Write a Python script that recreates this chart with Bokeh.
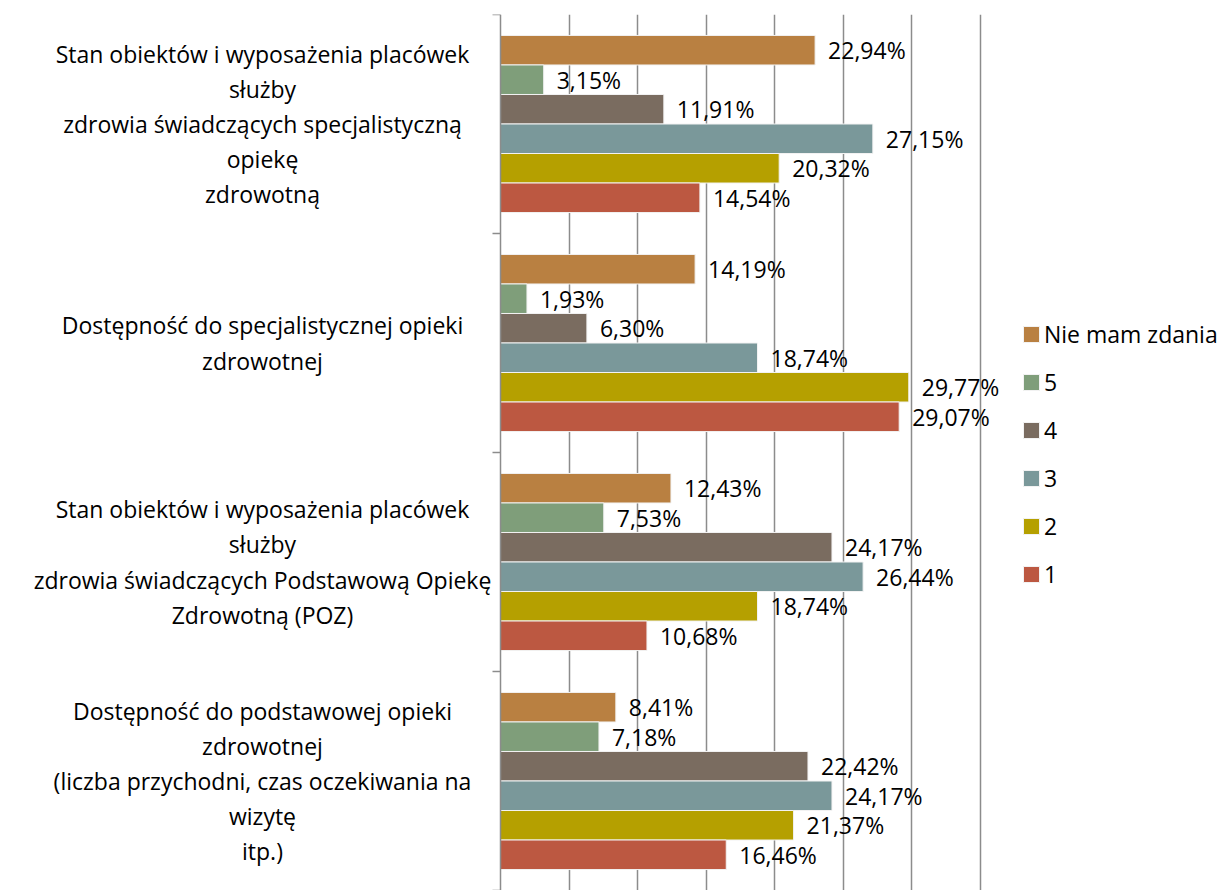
import math
from bokeh.plotting import figure
from bokeh.models import (ColumnDataSource, Range1d, FixedTicker, Legend,
                          LegendItem, Grid, Span)
from bokeh.transform import dodge
from bokeh.core.properties import value
from bokeh.embed import file_html
from bokeh.resources import INLINE

categories = [
    "Stan obiektów i wyposażenia placówek\nsłużby\nzdrowia świadczących specjalistyczną\nopiekę\nzdrowotną",
    "Dostępność do specjalistycznej opieki\nzdrowotnej",
    "Stan obiektów i wyposażenia placówek\nsłużby\nzdrowia świadczących Podstawową Opiekę\nZdrowotną (POZ)",
    "Dostępność do podstawowej opieki\nzdrowotnej\n(liczba przychodni, czas oczekiwania na\nwizytę\nitp.)",
]
series_names = ["Nie mam zdania", "5", "4", "3", "2", "1"]
nie_mam_zdania = [22.94, 14.19, 12.43, 8.41]
ocena_5 = [3.15, 1.93, 7.53, 7.18]
ocena_4 = [11.91, 6.30, 24.17, 22.42]
ocena_3 = [27.15, 18.74, 26.44, 24.17]
ocena_2 = [20.32, 29.77, 18.74, 21.37]
ocena_1 = [14.54, 29.07, 10.68, 16.46]
x_ticks = [0, 5, 10, 15, 20, 25, 30, 35]

series_values = [nie_mam_zdania, ocena_5, ocena_4, ocena_3, ocena_2, ocena_1]
colors = ["#B98041", "#7F9E7A", "#7A6C60", "#7A989A", "#B5A000", "#BC5841"]

FONT = "Open Sans"
W, H = 1220, 890
AXIS_LEFT = 500      # px where value 0 sits
AXIS_W = 480         # px from 0 to the last tick
TOP = 14
LABEL_CENTER = 262   # px centre of the category texts

n_cat = len(categories)
n_ser = len(series_names)
GAP = 1.42
bar_h = 1.0 / (n_ser + GAP)
cat_centers = [n_cat - 0.5 - i for i in range(n_cat)]

ppu = AXIS_W / x_ticks[-1]
x_start = -AXIS_LEFT / ppu
x_end = (W - AXIS_LEFT) / ppu

p = figure(width=W, height=H, output_backend="svg", toolbar_location=None,
           x_range=Range1d(x_start, x_end), y_range=Range1d(0, n_cat),
           x_axis_location=None, y_axis_location=None,
           min_border_left=0, min_border_right=0, min_border_top=TOP, min_border_bottom=0)
p.outline_line_color = None
p.background_fill_color = "white"
p.grid.visible = False

GRID_COLOR = "#8C8C8C"
p.add_layout(Grid(dimension=0, ticker=FixedTicker(ticks=x_ticks[1:]),
                  grid_line_color=GRID_COLOR, grid_line_width=1.5))
p.add_layout(Span(location=0, dimension="height", line_color=GRID_COLOR, line_width=1.5))

y_ticks = list(range(n_cat + 1))
p.ray(x=[0] * len(y_ticks), y=y_ticks, length=8, length_units="screen", angle=math.pi,
      line_color=GRID_COLOR, line_width=1.5)

items = []
for j, (name, vals, col) in enumerate(zip(series_names, series_values, colors)):
    off = ((n_ser - 1) / 2 - j) * bar_h
    src = ColumnDataSource(dict(
        cy=cat_centers, val=vals,
        lbl=[f"{v:.2f}".replace(".", ",") + "%" for v in vals]))
    r = p.hbar(y=dodge("cy", off), left=0, right="val", height=bar_h, source=src,
               fill_color=col, line_color="#F2F2F2", line_width=1)
    items.append(LegendItem(label=name, renderers=[r]))
    p.text(x="val", y=dodge("cy", off), text="lbl", source=src,
           x_offset=13, y_offset=0, text_baseline="middle", text_align="left",
           text_font=value(FONT), text_font_size="23px", text_color="black")

cat_src = ColumnDataSource(dict(cy=cat_centers, cat=categories,
                                lx=[(LABEL_CENTER - AXIS_LEFT) / ppu] * n_cat))
p.text(x="lx", y="cy", text="cat", source=cat_src,
       text_align="center", text_baseline="middle", text_line_height=1.1,
       text_font=value(FONT), text_font_size="23px", text_color="black")

legend = Legend(items=items, location=(1021, 300), orientation="vertical",
                label_text_font=FONT, label_text_font_size="23px", label_text_color="black",
                glyph_width=20, glyph_height=20, label_standoff=3, label_height=30,
                spacing=16, padding=0, margin=0,
                border_line_alpha=0, background_fill_alpha=0)
p.add_layout(legend, "center")

open("out.html", "w").write(file_html(p, INLINE))
